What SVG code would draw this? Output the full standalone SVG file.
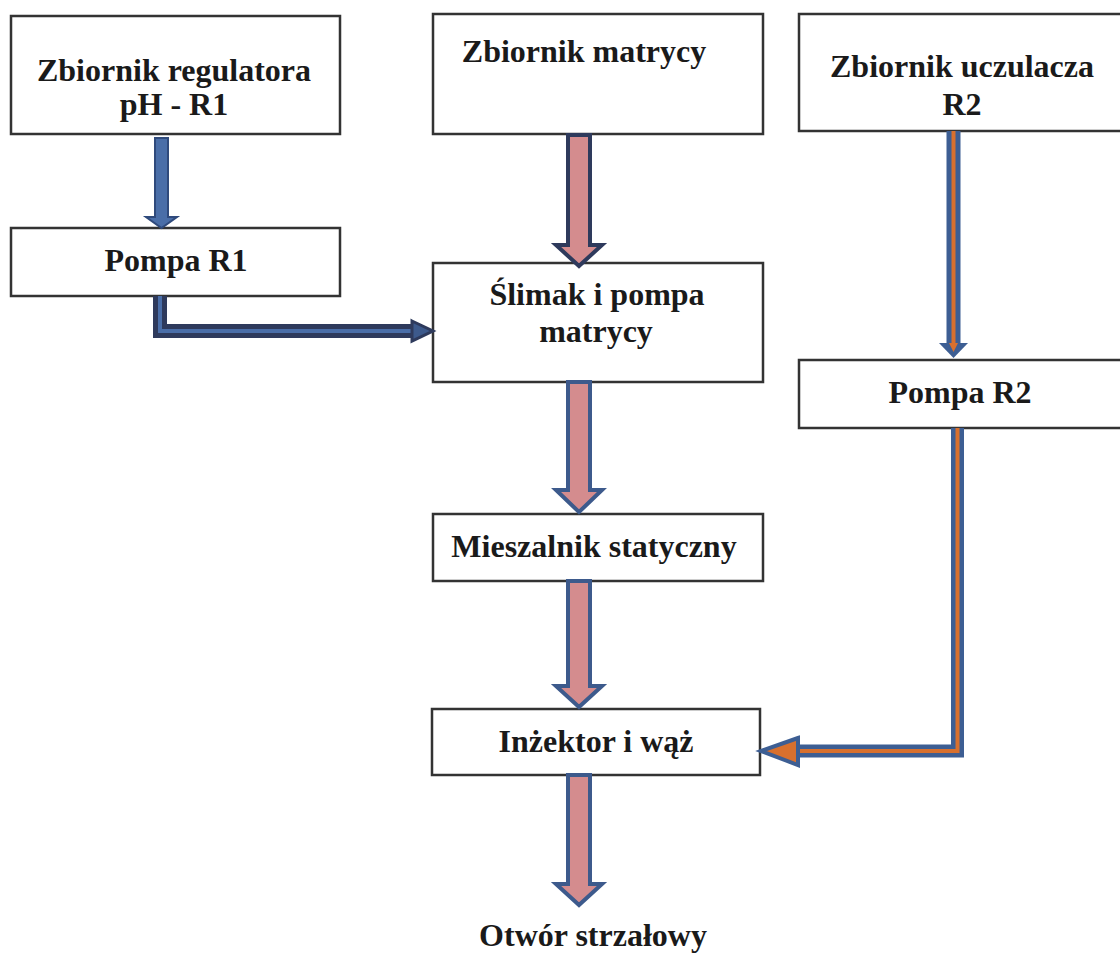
<svg xmlns="http://www.w3.org/2000/svg" width="1120" height="954" viewBox="0 0 1120 954">
<style>
.box{fill:#fff;stroke:#333;stroke-width:2.5}
.t{font-family:"Liberation Serif","Times New Roman",serif;font-weight:bold;font-size:32px;fill:#1a1a1a;text-anchor:middle}
.pink{fill:#d48c8e;stroke:#3d5a8c;stroke-width:4;stroke-linejoin:miter}
.pinkd{fill:#d48c8e;stroke:#2e3a5c;stroke-width:4;stroke-linejoin:miter}
</style>
<rect width="1120" height="954" fill="#fff"/>
<g id="n1"><rect class="box" x="11" y="16" width="329" height="118"/><text class="t" x="174" y="81">Zbiornik regulatora</text><text class="t" x="174" y="115">pH - R1</text></g>
<g id="n2"><rect class="box" x="433" y="14" width="330" height="120"/><text class="t" x="584" y="62">Zbiornik matrycy</text></g>
<g id="n3"><rect class="box" x="799" y="14" width="325" height="117"/><text class="t" x="962" y="77">Zbiornik uczulacza</text><text class="t" x="962" y="115">R2</text></g>
<g id="n4"><rect class="box" x="11" y="228" width="329" height="68"/><text class="t" x="176" y="271">Pompa R1</text></g>
<g id="n5"><rect class="box" x="433" y="263" width="330" height="119"/><text class="t" x="597" y="305">Ślimak i pompa</text><text class="t" x="596" y="342">matrycy</text></g>
<g id="n6"><rect class="box" x="799" y="360" width="325" height="68"/><text class="t" x="960" y="403">Pompa R2</text></g>
<g id="n7"><rect class="box" x="433" y="514" width="330" height="67"/><text class="t" x="594" y="557">Mieszalnik statyczny</text></g>
<g id="n8"><rect class="box" x="432" y="709" width="328" height="66"/><text class="t" x="596" y="752">Inżektor i wąż</text></g>
<g id="n9"><text class="t" x="593" y="946">Otwór strzałowy</text></g>
<g id="connectors">
<path d="M155,138 H168 V217 H177 L161.5,228 L146,217 H155 Z" fill="#4a6ea8" stroke="#2f4a7c" stroke-width="2"/>
<path d="M160,296 V331 H422" fill="none" stroke="#2e3a5c" stroke-width="14" stroke-linejoin="miter"/>
<path d="M160,296 V331 H422" fill="none" stroke="#4a6ea8" stroke-width="4" stroke-linejoin="miter"/>
<path d="M412,321 L433,331 L412,341 Z" fill="#3d5a8c" stroke="#2e3a5c" stroke-width="3"/>
<path class="pinkd" d="M568,135 H590 V245 H602 L579,266 L556,245 H568 Z"/>
<path d="M953.5,131 V345" fill="none" stroke="#3d5e93" stroke-width="14"/>
<path d="M953.5,131 V345" fill="none" stroke="#d8702e" stroke-width="4"/>
<path d="M939,343 H968 L953.5,358 Z" fill="#3d5e93"/>
<path d="M949,343 H958 L953.5,352 Z" fill="#d8702e"/>
<path d="M957.5,428 V751 H796" fill="none" stroke="#3d5e93" stroke-width="13" stroke-linejoin="miter"/>
<path d="M957.5,428 V751 H796" fill="none" stroke="#d8702e" stroke-width="4" stroke-linejoin="miter"/>
<path d="M798,738 L761,751 L798,765 Z" fill="#d8702e" stroke="#3d5e93" stroke-width="4" stroke-linejoin="miter"/>
<path class="pink" d="M568,382 H590 V490 H602 L579,512 L556,490 H568 Z"/>
<path class="pink" d="M568,581 H590 V686 H602 L579,707 L556,686 H568 Z"/>
<path class="pink" d="M568,775 H590 V884 H602 L579,905 L556,884 H568 Z"/>
</g>
</svg>
